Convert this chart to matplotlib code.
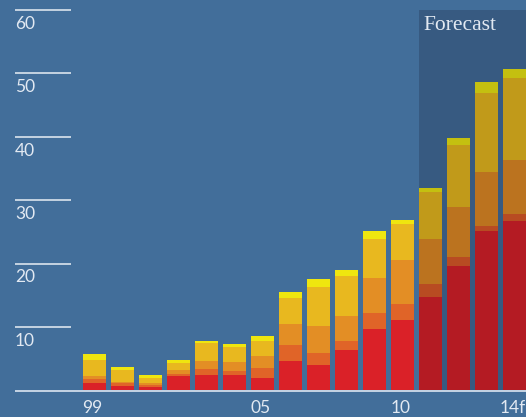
import matplotlib
matplotlib.use("Agg")
import matplotlib.pyplot as plt
import numpy as np

years = ["99", "00", "01", "02", "03", "04", "05", "06", "07", "08", "09", "10", "11", "12", "13", "14f"]
shown_labels = {0: "99", 6: "05", 11: "10", 15: "14f"}
seg_red = [1.18, 0.76, 0.55, 2.33, 2.44, 2.44, 1.97, 4.65, 4.02, 6.39, 9.70, 11.12, 14.74, 19.63, 25.15, 26.73]
seg_orred = [0.68, 0.38, 0.27, 0.32, 0.95, 0.63, 1.58, 2.53, 1.89, 1.42, 2.52, 2.52, 2.05, 1.42, 0.79, 1.10]
seg_orange = [0.43, 0.25, 0.41, 0.58, 1.26, 1.42, 1.89, 3.31, 4.26, 3.94, 5.52, 6.94, 7.10, 7.88, 8.51, 8.51]
seg_yo = [2.52, 1.84, 0.79, 1.11, 2.84, 2.37, 2.37, 4.10, 6.15, 6.31, 6.15, 5.67, 7.41, 9.78, 12.46, 12.93]
seg_yellow = [0.95, 0.48, 0.42, 0.47, 0.32, 0.47, 0.78, 0.94, 1.26, 0.94, 1.26, 0.63, 0.63, 1.10, 1.73, 1.42]
forecast_start = 12
y_ticks = [10, 20, 30, 40, 50, 60]

colors_actual = ["#da2128", "#e06428", "#e38e25", "#e8b81f", "#efe60f"]
colors_fcst = ["#b41b23", "#b84b22", "#bb731f", "#c19a1a", "#c4c010"]
bg = "#426e9a"
fc_bg = "#375a81"
txt = "#e2e9f2"

fig = plt.figure(figsize=(5.26, 4.17), dpi=100, facecolor=bg)
ax = fig.add_axes([0, 0, 1, 1])
ax.set_facecolor(bg)
ax.set_xlim(-3.375, 15.41)
ax.set_ylim(-4.18, 61.57)
ax.axis("off")

n = len(years)
x = np.arange(n)
w = 23 / 28

# forecast shading
ax.fill_between([forecast_start - w / 2, 16], 0, 60, color=fc_bg, zorder=1, linewidth=0)
ax.text(forecast_start - w / 2 + 0.17, 59.0, "Forecast", family=["Liberation Serif", "DejaVu Serif"],
        fontsize=15.5, color=txt, ha="left", va="top", zorder=5)

segs = [seg_red, seg_orred, seg_orange, seg_yo, seg_yellow]
bottom = np.zeros(n)
for k, s in enumerate(segs):
    s = np.array(s)
    cols = [colors_fcst[k] if i >= forecast_start else colors_actual[k] for i in range(n)]
    ax.bar(x, s, width=w, bottom=bottom, color=cols, linewidth=0, zorder=3)
    bottom += s

# y grid stubs and labels
x0 = (15 - 94.5) / 28
x1 = (71 - 94.5) / 28
for t in y_ticks:
    ax.plot([x0, x1], [t, t], color="#e8eef5", lw=1.1, zorder=4, solid_capstyle="butt")
    ax.text(x0, t - 0.9, str(t), color=txt, fontsize=12.5, ha="left", va="top",
            family=["Lato", "DejaVu Sans"], fontweight="normal", zorder=5)

# baseline
ax.plot([x0, 16], [-0.1, -0.1], color="#d0dcea", lw=1.3, zorder=4, solid_capstyle="butt")

for i, lab in shown_labels.items():
    ax.text(x[i] - 0.07, -1.5, lab, color=txt, fontsize=12.5, ha="center", va="top",
            family=["Lato", "DejaVu Sans"], fontweight="normal", zorder=5)

fig.savefig("out.png", dpi=100, facecolor=bg)
